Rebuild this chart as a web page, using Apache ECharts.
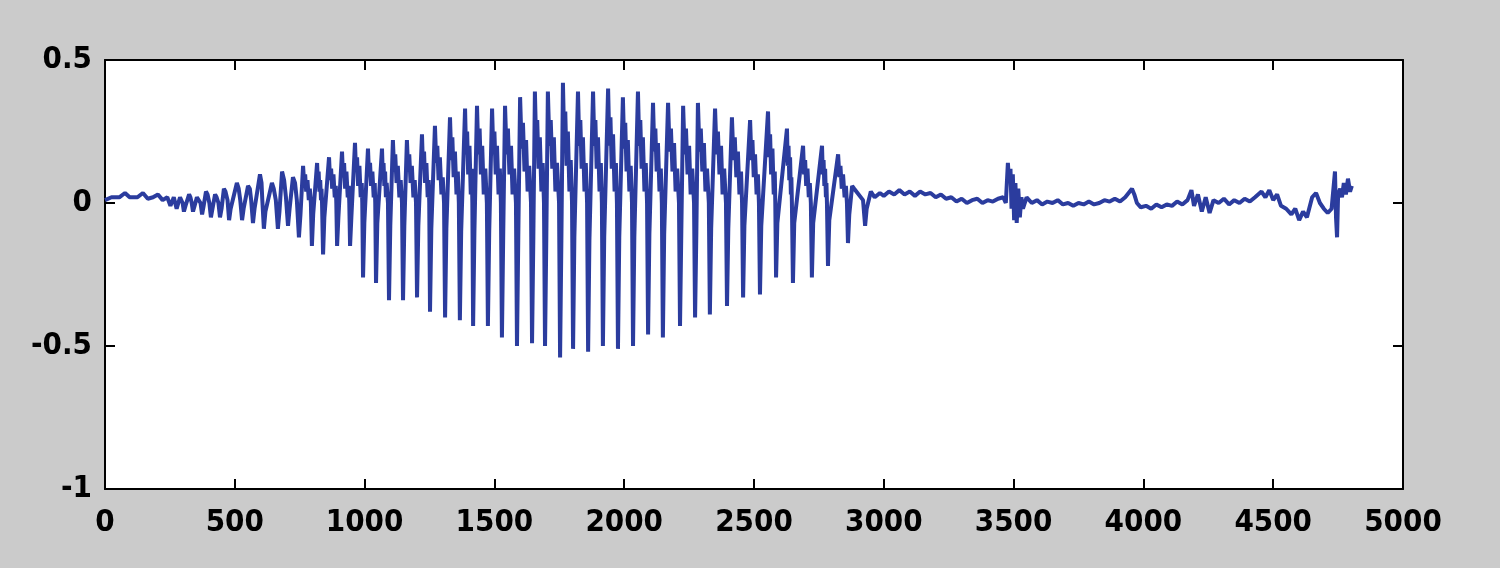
<!DOCTYPE html>
<html>
<head>
<meta charset="utf-8">
<script src="https://cdn.jsdelivr.net/npm/echarts@6/dist/echarts.min.js"></script>
<style>
  html, body { margin: 0; padding: 0; background: #cbcbcb; }
  #chart { width: 1500px; height: 568px; }
</style>
</head>
<body>
<div id="chart"></div>
<script>
// quiet lead-in before the voiced part
const headPoints = [
  [0, 0.01], [25, 0.02], [55, 0.02], [77, 0.035], [95, 0.02], [125, 0.02],
  [146, 0.035], [165, 0.015], [185, 0.02], [204, 0.03], [222, 0.01], [240, 0.02],
  [252, -0.01], [265, 0.02], [276, -0.02]
];

// one row per pitch period, flat x,y pairs: peak, ringing steps, trough, rebound
const voicedCycles = [
  [289, 0.02, 294, 0.015, 299, 0.0, 304, -0.03, 310, -0.01],
  [324, 0.03, 329, 0.02, 334, 0.0, 339, -0.03, 345, -0.01],
  [354, 0.02, 360, 0.015, 368, 0.0, 374, -0.04, 380, -0.01],
  [389, 0.04, 395, 0.03, 402, 0.0, 408, -0.05, 414, -0.02],
  [424, 0.03, 430, 0.02, 437, 0.0, 443, -0.05, 449, -0.02],
  [458, 0.05, 464, 0.04, 472, 0.01, 478, -0.06, 484, -0.02],
  [508, 0.07, 515, 0.05, 521, 0.01, 528, -0.06, 534, -0.02],
  [551, 0.06, 558, 0.05, 563, 0.01, 570, -0.07, 576, -0.02],
  [597, 0.10, 603, 0.07, 606, 0.01, 612, -0.09, 618, -0.03],
  [643, 0.07, 650, 0.05, 658, 0.01, 666, -0.09, 672, -0.03],
  [682, 0.11, 690, 0.08, 697, 0.02, 705, -0.08, 711, -0.02],
  [724, 0.09, 732, 0.07, 739, 0.01, 747, -0.12, 753, -0.04],
  [763, 0.13, 767, 0.07, 771, 0.10, 775, 0.04, 780, 0.08, 785, 0.01, 789, 0.05, 793, 0, 797, -0.15, 802, -0.04],
  [817, 0.14, 820, 0.07, 823, 0.11, 826, 0.04, 829, 0.08, 832, 0.01, 834, 0.05, 836, 0, 840, -0.18, 845, -0.05],
  [863, 0.16, 867, 0.08, 871, 0.12, 875, 0.05, 880, 0.10, 885, 0.02, 889, 0.06, 891, 0, 894, -0.15, 899, -0.05],
  [913, 0.18, 917, 0.09, 921, 0.14, 925, 0.05, 930, 0.11, 935, 0.02, 939, 0.06, 941, 0, 944, -0.15, 949, -0.05],
  [963, 0.21, 967, 0.11, 971, 0.16, 975, 0.06, 980, 0.13, 985, 0.02, 989, 0.07, 991, 0, 994, -0.26, 999, -0.07],
  [1013, 0.19, 1017, 0.10, 1021, 0.14, 1025, 0.06, 1030, 0.11, 1035, 0.02, 1039, 0.07, 1041, 0, 1044, -0.28, 1049, -0.07],
  [1067, 0.19, 1070, 0.10, 1073, 0.14, 1076, 0.06, 1079, 0.11, 1082, 0.02, 1085, 0.07, 1090, 0, 1094, -0.34, 1099, -0.08],
  [1109, 0.22, 1114, 0.11, 1118, 0.17, 1123, 0.07, 1128, 0.13, 1134, 0.02, 1139, 0.08, 1144, 0, 1148, -0.34, 1153, -0.08],
  [1163, 0.22, 1168, 0.11, 1172, 0.17, 1177, 0.07, 1182, 0.13, 1188, 0.02, 1193, 0.08, 1198, 0, 1202, -0.33, 1207, -0.08],
  [1221, 0.24, 1225, 0.12, 1229, 0.18, 1233, 0.07, 1238, 0.14, 1243, 0.02, 1247, 0.08, 1249, 0, 1252, -0.38, 1257, -0.09],
  [1271, 0.27, 1276, 0.14, 1280, 0.20, 1285, 0.08, 1290, 0.16, 1296, 0.03, 1301, 0.09, 1306, 0, 1310, -0.40, 1315, -0.09],
  [1329, 0.30, 1334, 0.15, 1338, 0.23, 1343, 0.09, 1348, 0.18, 1354, 0.03, 1359, 0.11, 1363, 0, 1367, -0.41, 1372, -0.10],
  [1387, 0.33, 1391, 0.17, 1395, 0.25, 1399, 0.10, 1404, 0.20, 1409, 0.03, 1413, 0.12, 1415, 0, 1418, -0.43, 1423, -0.10],
  [1433, 0.34, 1438, 0.17, 1443, 0.26, 1448, 0.10, 1453, 0.20, 1459, 0.03, 1465, 0.12, 1471, 0, 1475, -0.43, 1480, -0.10],
  [1491, 0.33, 1496, 0.17, 1500, 0.25, 1505, 0.10, 1510, 0.20, 1516, 0.03, 1521, 0.12, 1525, 0, 1529, -0.47, 1534, -0.11],
  [1541, 0.34, 1547, 0.17, 1552, 0.26, 1558, 0.10, 1564, 0.20, 1570, 0.03, 1576, 0.12, 1583, 0, 1587, -0.50, 1592, -0.12],
  [1599, 0.37, 1605, 0.19, 1610, 0.28, 1616, 0.11, 1622, 0.22, 1628, 0.04, 1634, 0.13, 1641, 0, 1645, -0.49, 1650, -0.12],
  [1656, 0.39, 1661, 0.20, 1665, 0.29, 1670, 0.12, 1675, 0.23, 1681, 0.04, 1686, 0.14, 1691, 0, 1695, -0.50, 1700, -0.12],
  [1706, 0.39, 1712, 0.20, 1717, 0.29, 1723, 0.12, 1729, 0.23, 1735, 0.04, 1741, 0.14, 1749, 0, 1753, -0.54, 1758, -0.13],
  [1764, 0.42, 1769, 0.21, 1773, 0.32, 1778, 0.13, 1783, 0.25, 1789, 0.04, 1794, 0.15, 1799, 0, 1803, -0.51, 1808, -0.12],
  [1822, 0.39, 1827, 0.20, 1831, 0.29, 1836, 0.12, 1841, 0.23, 1847, 0.04, 1852, 0.14, 1857, 0, 1861, -0.52, 1866, -0.13],
  [1880, 0.39, 1885, 0.20, 1889, 0.29, 1894, 0.12, 1899, 0.23, 1905, 0.04, 1910, 0.14, 1914, 0, 1918, -0.50, 1923, -0.12],
  [1938, 0.40, 1943, 0.20, 1947, 0.30, 1952, 0.12, 1957, 0.24, 1963, 0.04, 1968, 0.14, 1972, 0, 1976, -0.51, 1981, -0.12],
  [1995, 0.37, 2000, 0.19, 2004, 0.28, 2009, 0.11, 2014, 0.22, 2020, 0.04, 2025, 0.13, 2030, 0, 2034, -0.50, 2039, -0.12],
  [2053, 0.39, 2058, 0.20, 2062, 0.29, 2067, 0.12, 2072, 0.23, 2078, 0.04, 2083, 0.14, 2088, 0, 2092, -0.46, 2097, -0.11],
  [2111, 0.35, 2116, 0.18, 2120, 0.26, 2125, 0.11, 2130, 0.21, 2136, 0.04, 2141, 0.12, 2145, 0, 2149, -0.47, 2154, -0.11],
  [2169, 0.35, 2175, 0.18, 2180, 0.26, 2186, 0.11, 2192, 0.21, 2198, 0.04, 2204, 0.12, 2211, 0, 2215, -0.43, 2220, -0.10],
  [2227, 0.34, 2233, 0.17, 2238, 0.26, 2244, 0.10, 2250, 0.20, 2256, 0.03, 2262, 0.12, 2269, 0, 2273, -0.40, 2278, -0.10],
  [2284, 0.35, 2290, 0.18, 2295, 0.26, 2301, 0.11, 2307, 0.21, 2313, 0.04, 2319, 0.12, 2326, 0, 2330, -0.39, 2335, -0.09],
  [2350, 0.33, 2356, 0.17, 2361, 0.25, 2367, 0.10, 2373, 0.20, 2379, 0.03, 2385, 0.12, 2392, 0, 2396, -0.36, 2401, -0.09],
  [2415, 0.30, 2421, 0.15, 2426, 0.23, 2432, 0.09, 2438, 0.18, 2444, 0.03, 2450, 0.11, 2454, 0, 2458, -0.33, 2463, -0.08],
  [2485, 0.29, 2490, 0.15, 2494, 0.22, 2499, 0.09, 2504, 0.17, 2510, 0.03, 2515, 0.10, 2519, 0, 2523, -0.32, 2528, -0.08],
  [2554, 0.32, 2558, 0.16, 2562, 0.24, 2566, 0.10, 2571, 0.19, 2576, 0.03, 2580, 0.11, 2582, 0, 2585, -0.26, 2590, -0.07],
  [2627, 0.26, 2630, 0.13, 2633, 0.20, 2636, 0.08, 2639, 0.16, 2642, 0.03, 2644, 0.09, 2646, 0, 2650, -0.28, 2655, -0.07],
  [2689, 0.20, 2693, 0.10, 2697, 0.15, 2701, 0.06, 2706, 0.12, 2711, 0.02, 2715, 0.07, 2719, 0, 2723, -0.26, 2728, -0.07],
  [2762, 0.20, 2765, 0.10, 2768, 0.15, 2771, 0.06, 2774, 0.12, 2777, 0.02, 2779, 0.07, 2781, 0, 2785, -0.22, 2790, -0.06],
  [2824, 0.17, 2829, 0.09, 2833, 0.13, 2838, 0.05, 2843, 0.10, 2849, 0.02, 2854, 0.06, 2858, 0, 2862, -0.14, 2867, -0.04],
  [2878, 0.06, 2886, 0.05, 2920, 0.01, 2928, -0.08, 2934, -0.02]
];

// noisy tail with the two clicks near 3500 and 4750
const tailPoints = [
  [2950, 0.04], [2965, 0.02], [2985, 0.035], [3000, 0.025], [3020, 0.04], [3040, 0.03],
  [3060, 0.045], [3080, 0.03], [3100, 0.04], [3120, 0.025], [3140, 0.04], [3160, 0.03],
  [3180, 0.035], [3200, 0.02], [3220, 0.03], [3240, 0.015], [3260, 0.02], [3280, 0.005],
  [3300, 0.015], [3320, 0.0], [3340, 0.01], [3360, 0.015], [3380, 0.0], [3400, 0.01],
  [3420, 0.005], [3440, 0.015], [3460, 0.02], [3470, 0.0],
  [3478, 0.14], [3482, 0.08], [3488, 0.12], [3492, -0.02], [3497, 0.10], [3502, -0.06],
  [3507, 0.07], [3512, -0.07], [3518, 0.05], [3524, -0.05], [3530, 0.02], [3536, -0.02],
  [3550, 0.02], [3570, 0.0], [3590, 0.01], [3610, -0.005], [3630, 0.005], [3650, 0.0],
  [3670, 0.01], [3690, -0.005], [3710, 0.0], [3730, -0.01], [3750, 0.0], [3770, -0.005],
  [3790, 0.005], [3810, -0.005], [3830, 0.0], [3850, 0.01], [3870, 0.005], [3890, 0.015],
  [3910, 0.005], [3930, 0.02], [3956, 0.05], [3965, 0.03], [3975, 0.0], [3990, -0.015],
  [4010, -0.01], [4030, -0.02], [4050, -0.005], [4070, -0.015], [4090, -0.005], [4110, -0.01],
  [4130, 0.005], [4150, -0.005], [4170, 0.01], [4185, 0.045], [4195, -0.01], [4210, 0.03],
  [4225, -0.03], [4240, 0.02], [4255, -0.035], [4270, 0.01], [4290, 0.0], [4310, 0.015],
  [4330, -0.005], [4350, 0.01], [4370, 0.0], [4390, 0.015], [4410, 0.005], [4430, 0.02],
  [4455, 0.04], [4470, 0.02], [4485, 0.045], [4500, 0.01], [4515, 0.03], [4530, -0.01],
  [4550, -0.02], [4570, -0.04], [4585, -0.02], [4600, -0.06], [4615, -0.03], [4630, -0.05],
  [4650, 0.02], [4665, 0.035], [4680, 0.0], [4695, -0.02], [4710, -0.035], [4725, -0.02],
  [4738, 0.11], [4742, -0.05], [4746, -0.12], [4750, 0.03], [4758, 0.05], [4765, 0.02],
  [4772, 0.07], [4780, 0.03], [4788, 0.085], [4796, 0.04], [4803, 0.06]
];

const cyclePoints = [];
voicedCycles.forEach(row => {
  for (let i = 0; i < row.length; i += 2) cyclePoints.push([row[i], row[i + 1]]);
});
const signal = headPoints.concat(cyclePoints, tailPoints);

const labelFont = '"Liberation Sans Narrow", "DejaVu Sans Condensed", "Arial Narrow", "Liberation Sans", Arial, sans-serif';
const axisLine = { show: true, onZero: false, lineStyle: { color: '#000', width: 2 } };
const axisTick = { show: true, inside: true, length: 10, lineStyle: { color: '#000', width: 2 } };

const chart = echarts.init(document.getElementById('chart'));
chart.setOption({
  backgroundColor: '#cbcbcb',
  animation: false,
  grid: { left: 105, right: 97, top: 60, bottom: 79, show: true, backgroundColor: '#ffffff', borderWidth: 0 },
  xAxis: [
    {
      type: 'value', position: 'bottom', min: 0, max: 5000, interval: 500,
      axisLine, axisTick, splitLine: { show: false },
      axisLabel: { color: '#000', fontSize: 31, fontWeight: 'bold', fontFamily: labelFont, margin: 18, formatter: v => String(v) }
    },
    {
      type: 'value', position: 'top', min: 0, max: 5000, interval: 500,
      axisLine, axisTick, splitLine: { show: false }, axisLabel: { show: false }
    }
  ],
  yAxis: [
    {
      type: 'value', position: 'left', min: -1, max: 0.5, interval: 0.5,
      axisLine, axisTick, splitLine: { show: false },
      axisLabel: { color: '#000', fontSize: 31, fontWeight: 'bold', fontFamily: labelFont, margin: 13 }
    },
    {
      type: 'value', position: 'right', min: -1, max: 0.5, interval: 0.5,
      axisLine, axisTick, splitLine: { show: false }, axisLabel: { show: false }
    }
  ],
  series: [{
    type: 'line',
    data: signal,
    xAxisIndex: 0,
    yAxisIndex: 0,
    showSymbol: false,
    sampling: 'none',
    lineStyle: { color: '#2b3c9e', width: 4 },
    emphasis: { disabled: true }
  }]
});
</script>
</body>
</html>
